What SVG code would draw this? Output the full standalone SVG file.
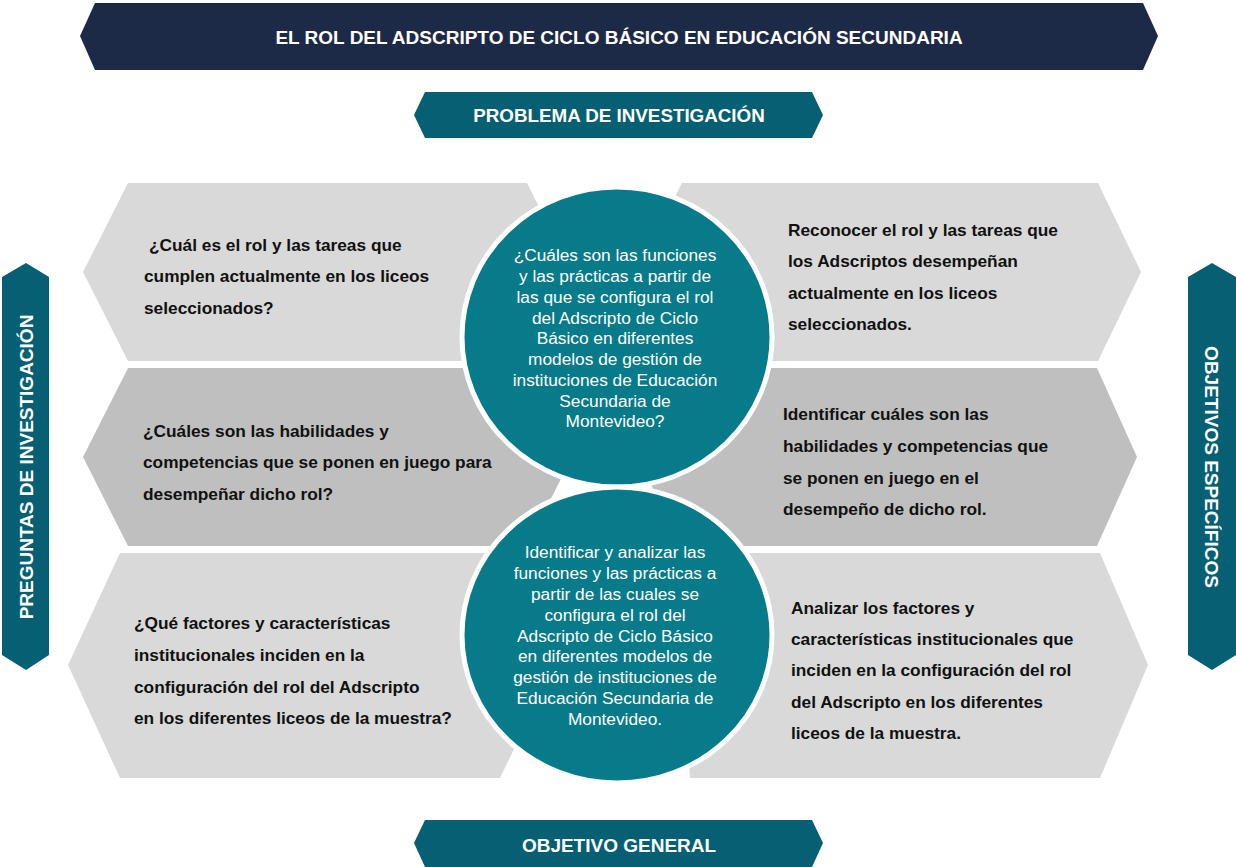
<svg xmlns="http://www.w3.org/2000/svg" width="1236" height="867" viewBox="0 0 1236 867">
<style>
.navy{fill:#1d2a47}
.teal{fill:#065f73}
.lg{fill:#d9d9d9}
.dg{fill:#bfbfbf}
.circ{fill:#087b8a;stroke:#ffffff;stroke-width:5}
.hdr{font-family:"Liberation Sans",Arial,sans-serif;font-weight:bold;fill:#ffffff;text-anchor:middle}
.bt{font-family:"Liberation Sans",Arial,sans-serif;font-weight:bold;font-size:17.3px;fill:#111111}
.ct{font-family:"Liberation Sans",Arial,sans-serif;font-size:17.3px;fill:#ffffff;text-anchor:middle}
</style>
<rect width="1236" height="867" fill="#ffffff"/>
<g id="titulo">
<polygon class="navy" points="95,3 1143,3 1158,36 1143,70 95,70 80,36"/>
<text class="hdr" x="619" y="44" font-size="19">EL ROL DEL ADSCRIPTO DE CICLO BÁSICO EN EDUCACIÓN SECUNDARIA</text>
</g>
<g id="problema">
<polygon class="teal" points="425,92 812,92 823,115 812,138 425,138 414,115"/>
<text class="hdr" x="619" y="122" font-size="18.8">PROBLEMA DE INVESTIGACIÓN</text>
</g>
<g id="objetivo-general">
<polygon class="teal" points="425,820 812,820 823,843 812,867 425,867 414,843"/>
<text class="hdr" x="619" y="852" font-size="19">OBJETIVO GENERAL</text>
</g>
<g id="preguntas">
<polygon class="teal" points="2,277 26,263 49,277 49,655 26,670 2,655"/>
<text class="hdr" font-size="19" transform="translate(33,467) rotate(-90)">PREGUNTAS DE INVESTIGACIÓN</text>
</g>
<g id="objetivos-especificos">
<polygon class="teal" points="1188,277 1212,263 1236,277 1236,655 1212,670 1188,655"/>
<text class="hdr" font-size="19" transform="translate(1205,467) rotate(90)">OBJETIVOS ESPECÍFICOS</text>
</g>
<g id="pregunta-1">
<polygon class="lg" points="83,272 128,183 527,183 572,272 527,361 128,361"/>
<text class="bt"><tspan x="149" y="251">¿Cuál es el rol y las tareas que</tspan><tspan x="144" y="282">cumplen actualmente en los liceos</tspan><tspan x="144" y="314">seleccionados?</tspan></text>
</g>
<g id="objetivo-1">
<polygon class="lg" points="637,272 682,183 1098,183 1141,272 1098,361 682,361"/>
<text class="bt"><tspan x="788" y="236">Reconocer el rol y las tareas que</tspan><tspan x="788" y="267">los Adscriptos desempeñan</tspan><tspan x="788" y="299">actualmente en los liceos</tspan><tspan x="788" y="330">seleccionados.</tspan></text>
</g>
<g id="pregunta-2">
<polygon class="dg" points="83,457 128,368 527,368 572,457 527,546 128,546"/>
<text class="bt"><tspan x="143" y="437">¿Cuáles son las habilidades y</tspan><tspan x="143" y="468">competencias que se ponen en juego para</tspan><tspan x="143" y="500">desempeñar dicho rol?</tspan></text>
</g>
<g id="objetivo-2">
<polygon class="dg" points="637,457 682,368 1097,368 1137,457 1097,546 682,546"/>
<text class="bt"><tspan x="783" y="420">Identificar cuáles son las</tspan><tspan x="783" y="452">habilidades y competencias que</tspan><tspan x="783" y="484">se ponen en juego en el</tspan><tspan x="783" y="515">desempeño de dicho rol.</tspan></text>
</g>
<g id="pregunta-3">
<polygon class="lg" points="68,665 120,553 500,553 555,665 500,778 120,778"/>
<text class="bt"><tspan x="134" y="629">¿Qué factores y características</tspan><tspan x="134" y="661">institucionales inciden en la</tspan><tspan x="134" y="693">configuración del rol del Adscripto</tspan><tspan x="134" y="724">en los diferentes liceos de la muestra?</tspan></text>
</g>
<g id="objetivo-3">
<polygon class="lg" points="680,665 735,553 1100,553 1148,665 1100,778 690,778"/>
<text class="bt"><tspan x="791" y="614">Analizar los factores y</tspan><tspan x="791" y="645">características institucionales que</tspan><tspan x="791" y="676">inciden en la configuración del rol</tspan><tspan x="791" y="708">del Adscripto en los diferentes</tspan><tspan x="791" y="739">liceos de la muestra.</tspan></text>
</g>
<g id="problema-circulo">
<ellipse class="circ" cx="617" cy="337" rx="155" ry="150"/>
<text class="ct"><tspan x="615" y="261">¿Cuáles son las funciones</tspan><tspan x="615" y="282">y las prácticas a partir de</tspan><tspan x="615" y="303">las que se configura el rol</tspan><tspan x="615" y="324">del Adscripto de Ciclo</tspan><tspan x="615" y="344">Básico en diferentes</tspan><tspan x="615" y="365">modelos de gestión de</tspan><tspan x="615" y="386">instituciones de Educación</tspan><tspan x="615" y="407">Secundaria de</tspan><tspan x="615" y="427">Montevideo?</tspan></text>
</g>
<g id="objetivo-circulo">
<ellipse class="circ" cx="617" cy="635" rx="155" ry="148"/>
<text class="ct"><tspan x="615" y="558">Identificar y analizar las</tspan><tspan x="615" y="579">funciones y las prácticas a</tspan><tspan x="615" y="600">partir de las cuales se</tspan><tspan x="615" y="621">configura el rol del</tspan><tspan x="615" y="642">Adscripto de Ciclo Básico</tspan><tspan x="615" y="662">en diferentes modelos de</tspan><tspan x="615" y="683">gestión de instituciones de</tspan><tspan x="615" y="704">Educación Secundaria de</tspan><tspan x="615" y="725">Montevideo.</tspan></text>
</g>
<g id="connectors"></g>
</svg>
